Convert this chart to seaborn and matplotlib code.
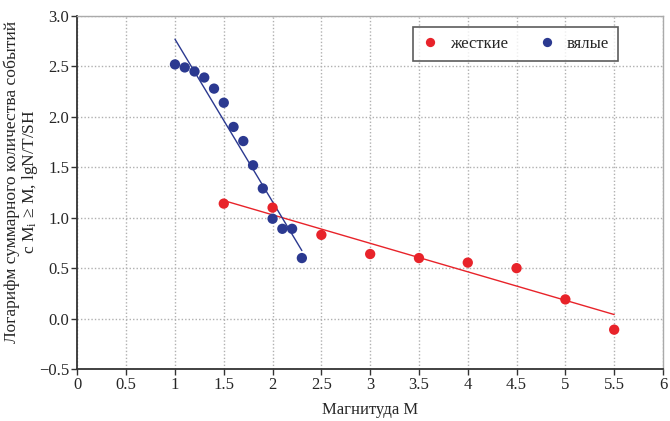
import numpy as np
import pandas as pd
import matplotlib
matplotlib.use("Agg")
import matplotlib.pyplot as plt
import seaborn as sns

# Data
hard_x = [1.5, 2.0, 2.5, 3.0, 3.5, 4.0, 4.5, 5.0, 5.5]
hard_y = [1.14, 1.10, 0.83, 0.64, 0.60, 0.555, 0.50, 0.19, -0.11]
soft_x = [1.0, 1.1, 1.2, 1.3, 1.4, 1.5, 1.6, 1.7, 1.8, 1.9, 2.0, 2.1, 2.2, 2.3]
soft_y = [2.52, 2.49, 2.45, 2.39, 2.28, 2.14, 1.90, 1.76, 1.52, 1.29, 0.99, 0.89, 0.89, 0.60]
labels = ["жесткие", "вялые"]
x_ticks = [0, 0.5, 1, 1.5, 2, 2.5, 3, 3.5, 4, 4.5, 5, 5.5, 6]
x_tick_labels = ["0", "0.5", "1", "1.5", "2", "2.5", "3", "3.5", "4", "4.5", "5", "5.5", "6"]
y_ticks = [-0.5, 0.0, 0.5, 1.0, 1.5, 2.0, 2.5, 3.0]

RED = "#e8232a"
BLUE = "#2b3990"

sns.set_theme(style="white")
plt.rcParams["font.family"] = ["Liberation Serif", "DejaVu Serif"]
plt.rcParams["mathtext.fontset"] = "custom"
plt.rcParams["mathtext.rm"] = "Liberation Serif"
plt.rcParams["mathtext.it"] = "Liberation Serif:italic"

df = pd.DataFrame({
    "x": hard_x + soft_x,
    "y": hard_y + soft_y,
    "type": [labels[0]] * len(hard_x) + [labels[1]] * len(soft_x),
})

fig = plt.figure(figsize=(6.7, 4.21), dpi=100)
ax = fig.add_axes([0.1155, 0.1235, 0.874, 0.8385])

sns.regplot(x=hard_x, y=hard_y, ax=ax, scatter=False, ci=None, color=RED,
            line_kws={"lw": 1.0}, truncate=True)
sns.regplot(x=soft_x, y=soft_y, ax=ax, scatter=False, ci=None, color=BLUE,
            line_kws={"lw": 1.0}, truncate=True)
sns.scatterplot(data=df, x="x", y="y", hue="type", palette={labels[0]: RED, labels[1]: BLUE},
                s=55, edgecolor="none", ax=ax, zorder=3)

ax.set_xlim(0, 6)
ax.set_ylim(-0.5, 3.0)
ax.set_xticks(x_ticks)
ax.set_xticklabels(x_tick_labels)
ax.set_yticks(y_ticks)
ax.set_yticklabels([f"{v:.1f}".replace("-", "\u2212") for v in y_ticks])
ax.tick_params(axis="both", labelsize=12, direction="out", length=4, width=1,
               color="#333333", bottom=True, left=True, pad=2)
ax.grid(True, linestyle=(0, (1, 1.5)), color="#b0b0b0", lw=1.0)
ax.set_axisbelow(True)

for s in ["left", "bottom"]:
    ax.spines[s].set_color("#333333")
    ax.spines[s].set_linewidth(1.3)
for s in ["top", "right"]:
    ax.spines[s].set_color("#aaaaaa")
    ax.spines[s].set_linewidth(1.0)

ax.set_xlabel("Магнитуда M", fontsize=12, labelpad=6)
ax.set_ylabel("Логарифм суммарного количества событий\nс $\\mathregular{M_i}$ ≥ M, lgN/T/SH",
              fontsize=12.6, linespacing=1.0)
ax.yaxis.set_label_coords(-0.063, 0.53)

leg = ax.legend(loc="upper left", bbox_to_anchor=(0.573, 0.969), ncol=2, frameon=True,
                fancybox=False, edgecolor="#333333", fontsize=12, markerscale=0.9,
                handlelength=1.0, handletextpad=0.7, columnspacing=1.8, borderpad=0.55,
                borderaxespad=0, title=None)
leg.get_frame().set_linewidth(1.2)

fig.savefig("out.png", dpi=100)
